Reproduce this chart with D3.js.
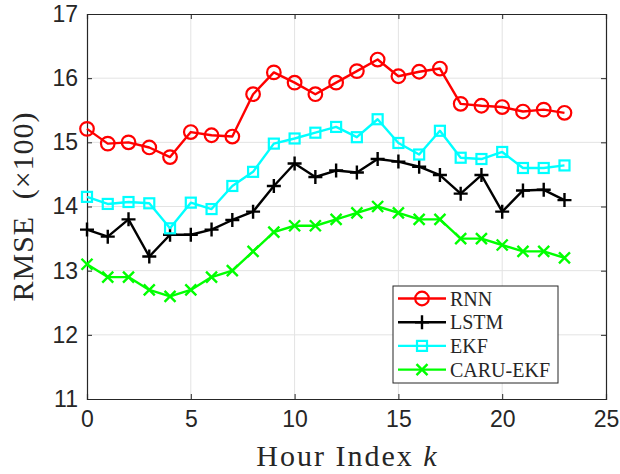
<!DOCTYPE html>
<html>
<head>
<meta charset="utf-8">
<script src="https://cdn.jsdelivr.net/npm/d3@7"></script>
<style>
  body { margin: 0; background: #fff; }
  svg { display: block; }
  .serif { font-family: "Liberation Serif", "DejaVu Serif", "Times New Roman", serif; }
  .sans { font-family: "Liberation Sans", Arial, Helvetica, sans-serif; }
</style>
</head>
<body>
<div id="chart"></div>
<script>
// data
const hours = d3.range(0, 24);
const rnn = [15.21, 14.98, 15.0, 14.92, 14.77, 15.16, 15.11, 15.09, 15.75, 16.09, 15.93, 15.75,
  15.93, 16.11, 16.29, 16.03, 16.1, 16.15, 15.6, 15.57, 15.55, 15.48, 15.51, 15.46];
const lstm = [13.64, 13.53, 13.8, 13.22, 13.56, 13.56, 13.64, 13.79, 13.92, 14.32, 14.67, 14.46,
  14.56, 14.53, 14.74, 14.7, 14.62, 14.49, 14.2, 14.49, 13.92, 14.25, 14.26, 14.1];
const ekf = [14.15, 14.04, 14.07, 14.05, 13.66, 14.06, 13.96, 14.32, 14.54, 14.98, 15.06, 15.15,
  15.24, 15.08, 15.36, 14.99, 14.81, 15.18, 14.76, 14.74, 14.85, 14.6, 14.6, 14.64];
const caru = [13.1, 12.9, 12.9, 12.7, 12.6, 12.7, 12.9, 13.0, 13.3, 13.6, 13.7, 13.7,
  13.8, 13.9, 14.0, 13.9, 13.8, 13.8, 13.5, 13.5, 13.4, 13.3, 13.3, 13.2];
const seriesNames = ["RNN", "LSTM", "EKF", "CARU-EKF"];
const xTicks = [0, 5, 10, 15, 20, 25];
const yTicks = [11, 12, 13, 14, 15, 16, 17];

const W = 620, H = 474;
const margin = {top: 14, right: 14, bottom: 75, left: 87};
const width = W - margin.left - margin.right,
  height = H - margin.top - margin.bottom;

const series = [
  {name: seriesNames[0], values: rnn, color: "#ff0000", marker: "circle"},
  {name: seriesNames[1], values: lstm, color: "#000000", marker: "plus"},
  {name: seriesNames[2], values: ekf, color: "#00ffff", marker: "square"},
  {name: seriesNames[3], values: caru, color: "#00ff00", marker: "cross"}
];

const svg = d3.select("#chart").append("svg")
  .attr("width", W)
  .attr("height", H);

const g = svg.append("g")
  .attr("transform", "translate(" + margin.left + "," + margin.top + ")");

const x = d3.scaleLinear().domain([0, 25]).range([0, width]);
const y = d3.scaleLinear().domain([11, 17]).range([height, 0]);

// grid
g.append("g").selectAll("line")
  .data(xTicks.slice(1, -1)).enter().append("line")
  .attr("x1", d => x(d)).attr("x2", d => x(d))
  .attr("y1", 0).attr("y2", height)
  .attr("stroke", "#e3e3e3").attr("stroke-width", 1);
g.append("g").selectAll("line")
  .data(yTicks.slice(1, -1)).enter().append("line")
  .attr("y1", d => y(d)).attr("y2", d => y(d))
  .attr("x1", 0).attr("x2", width)
  .attr("stroke", "#e3e3e3").attr("stroke-width", 1);

// axes (MATLAB style, ticks inward, box on)
const axisColor = "#262626";
const tickLen = 5;
const xAxis = d3.axisBottom(x).tickValues(xTicks).tickSize(-tickLen).tickPadding(12).tickFormat(d3.format("d"));
const yAxis = d3.axisLeft(y).tickValues(yTicks).tickSize(-tickLen).tickPadding(9).tickFormat(d3.format("d"));
const xTop = d3.axisTop(x).tickValues(xTicks).tickSize(-tickLen).tickFormat("");
const yRight = d3.axisRight(y).tickValues(yTicks).tickSize(-tickLen).tickFormat("");

function styleAxis(sel) {
  sel.attr("font-family", null).attr("font-size", null);
  sel.selectAll("path").attr("stroke", axisColor).attr("stroke-width", 1.2);
  sel.selectAll("line").attr("stroke", axisColor).attr("stroke-width", 1);
  sel.selectAll("text")
    .attr("class", "sans")
    .attr("fill", axisColor)
    .style("font-size", "23px");
}

g.append("g").attr("transform", "translate(0," + height + ")").call(xAxis).call(styleAxis);
g.append("g").call(yAxis).call(styleAxis);
g.append("g").call(xTop).call(styleAxis);
g.append("g").attr("transform", "translate(" + width + ",0)").call(yRight).call(styleAxis);

// marker shapes
function drawMarker(sel, type, color) {
  if (type === "circle") {
    sel.append("circle").attr("r", 6.8)
      .attr("fill", "none").attr("stroke", color).attr("stroke-width", 2.2);
  } else if (type === "square") {
    sel.append("rect").attr("x", -5).attr("y", -5).attr("width", 10).attr("height", 10)
      .attr("fill", "none").attr("stroke", color).attr("stroke-width", 2.2);
  } else if (type === "plus") {
    sel.append("path").attr("d", "M-7,0H7M0,-7V7")
      .attr("stroke", color).attr("stroke-width", 2.4);
  } else if (type === "cross") {
    sel.append("path").attr("d", "M-5.5,-5.5L5.5,5.5M-5.5,5.5L5.5,-5.5")
      .attr("stroke", color).attr("stroke-width", 2.4);
  }
}

const line = d3.line()
  .x((d, i) => x(hours[i]))
  .y(d => y(d));

series.forEach(s => {
  const sg = g.append("g");
  sg.append("path")
    .datum(s.values)
    .attr("d", line)
    .attr("fill", "none")
    .attr("stroke", s.color)
    .attr("stroke-width", 2.4)
    .attr("stroke-linejoin", "round");
  sg.selectAll("g")
    .data(s.values).enter().append("g")
    .attr("transform", (d, i) => "translate(" + x(hours[i]) + "," + y(d) + ")")
    .each(function () { drawMarker(d3.select(this), s.marker, s.color); });
});

// axis labels
svg.append("text")
  .attr("class", "serif")
  .attr("x", margin.left + width / 2 + 1)
  .attr("y", 466)
  .attr("text-anchor", "middle")
  .style("font-size", "30px")
  .style("letter-spacing", "2px")
  .attr("fill", axisColor)
  .html("Hour Index <tspan font-style='italic'>k</tspan>");

svg.append("text")
  .attr("class", "serif")
  .attr("transform", "translate(33," + (margin.top + height / 2) + ") rotate(-90)")
  .attr("text-anchor", "middle")
  .style("font-size", "30px")
  .style("letter-spacing", "1px")
  .style("word-spacing", "8px")
  .attr("fill", axisColor)
  .text("RMSE (\u00d7100)");

// legend
const legend = svg.append("g").attr("transform", "translate(393,286)");
legend.append("rect")
  .attr("width", 165).attr("height", 97)
  .attr("fill", "#fff").attr("stroke", axisColor).attr("stroke-width", 1);
series.forEach((s, i) => {
  const ly = 12.5 + i * 23.7;
  const row = legend.append("g").attr("transform", "translate(0," + ly + ")");
  row.append("line").attr("x1", 5).attr("x2", 53)
    .attr("stroke", s.color).attr("stroke-width", 2.4);
  const mk = row.append("g").attr("transform", "translate(29,0)");
  drawMarker(mk, s.marker, s.color);
  row.append("text")
    .attr("class", "serif")
    .attr("x", 57).attr("y", 7)
    .style("font-size", "20px")
    .attr("fill", axisColor)
    .text(s.name);
});
</script>
</body>
</html>
